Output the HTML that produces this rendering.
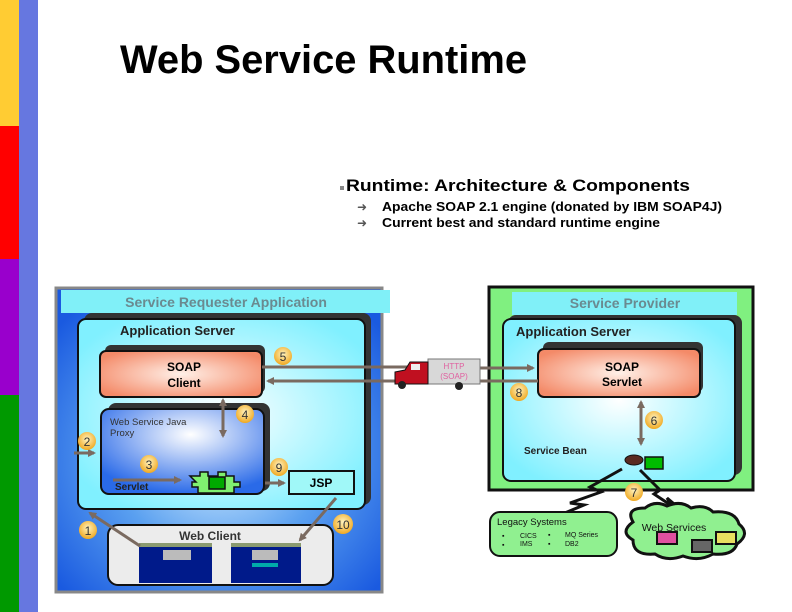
<!DOCTYPE html>
<html><head><meta charset="utf-8"><style>
html,body{margin:0;padding:0;background:#fff}
svg{display:block}
text{font-family:"Liberation Sans",sans-serif}
</style></head><body>
<svg width="792" height="612" viewBox="0 0 792 612" xmlns="http://www.w3.org/2000/svg">
<defs>
<radialGradient id="blueg" cx="50%" cy="55%" r="65%"><stop offset="0" stop-color="#d8f0ff"/><stop offset="0.5" stop-color="#5aa0f0"/><stop offset="1" stop-color="#1a5ae0"/></radialGradient>
<radialGradient id="cyang" cx="50%" cy="50%" r="60%"><stop offset="0" stop-color="#ffffff"/><stop offset="1" stop-color="#80f0ff"/></radialGradient>
<radialGradient id="salg" cx="50%" cy="50%" r="60%"><stop offset="0" stop-color="#fff0e8"/><stop offset="1" stop-color="#f48a68"/></radialGradient>
<radialGradient id="proxg" cx="55%" cy="30%" r="70%"><stop offset="0" stop-color="#ffffff"/><stop offset="1" stop-color="#2a6ae8"/></radialGradient>
<radialGradient id="badge" cx="50%" cy="40%" r="60%"><stop offset="0" stop-color="#fff4c0"/><stop offset="1" stop-color="#f0a820"/></radialGradient>
<marker id="ah" markerWidth="8" markerHeight="8" refX="6" refY="4" orient="auto" markerUnits="userSpaceOnUse"><path d="M0,0 L8,4 L0,8 z" fill="#7a6a60"/></marker>
<marker id="ahs" markerWidth="8" markerHeight="8" refX="2" refY="4" orient="auto" markerUnits="userSpaceOnUse"><path d="M8,0 L0,4 L8,8 z" fill="#7a6a60"/></marker>
</defs>
<rect x="0" y="0" width="19" height="126" fill="#ffcc33"/>
<rect x="0" y="126" width="19" height="133" fill="#ff0000"/>
<rect x="0" y="259" width="19" height="136" fill="#9900cc"/>
<rect x="0" y="395" width="19" height="217" fill="#009900"/>
<rect x="19" y="0" width="19" height="612" fill="#6677e0"/>

<text x="120" y="73" font-size="40" font-weight="bold" textLength="407" lengthAdjust="spacingAndGlyphs">Web Service Runtime</text>
<rect x="340" y="186" width="4" height="4" fill="#888"/>
<text x="346" y="191" font-size="17" font-weight="bold" textLength="344" lengthAdjust="spacingAndGlyphs">Runtime: Architecture &amp; Components</text>
<text x="357" y="211" font-size="12" fill="#555">➜</text>
<text x="382" y="211" font-size="13" font-weight="bold" textLength="340" lengthAdjust="spacingAndGlyphs">Apache SOAP 2.1 engine (donated by IBM SOAP4J)</text>
<text x="357" y="227" font-size="12" fill="#555">➜</text>
<text x="382" y="227" font-size="13" font-weight="bold" textLength="278" lengthAdjust="spacingAndGlyphs">Current best and standard runtime engine</text>

<rect x="56" y="288" width="326" height="304" fill="url(#blueg)" stroke="#888" stroke-width="3"/>
<rect x="61" y="290" width="329" height="23" fill="#80f0f8"/>
<text x="226" y="307" font-size="14" font-weight="bold" fill="#6a8a90" text-anchor="middle">Service Requester Application</text>
<rect x="84" y="313" width="287" height="192" rx="8" fill="#333"/>
<rect x="78" y="319" width="287" height="190" rx="8" fill="url(#cyang)" stroke="#111" stroke-width="2"/>
<text x="120" y="335" font-size="13" font-weight="bold" fill="#222">Application Server</text>
<rect x="105" y="345" width="160" height="48" rx="6" fill="#333"/>
<rect x="100" y="351" width="162" height="46" rx="6" fill="url(#salg)" stroke="#111" stroke-width="2"/>
<text x="184" y="371" font-size="12" font-weight="bold" text-anchor="middle">SOAP</text>
<text x="184" y="387" font-size="12" font-weight="bold" text-anchor="middle">Client</text>
<rect x="108" y="403" width="162" height="88" rx="8" fill="#333"/>
<rect x="101" y="409" width="163" height="85" rx="8" fill="url(#proxg)" stroke="#111" stroke-width="2"/>
<text x="110" y="425" font-size="9.5" fill="#333">Web Service Java</text>
<text x="110" y="436" font-size="9.5" fill="#333">Proxy</text>
<text x="115" y="490" font-size="10" font-weight="bold" fill="#222">Servlet</text>
<path d="M190,476 h10 v-4 h8 v4 h10 v-4 h8 v4 h8 v6 h6 v5 h-6 v6 h-36 v-6 h-6 v-5 h4 z" fill="#80f070" stroke="#111" stroke-width="1.5"/>
<rect x="209" y="477" width="16" height="12" fill="#0a0" stroke="#111" stroke-width="1.5"/>
<rect x="289" y="471" width="65" height="23" fill="#a0f8f8" stroke="#111" stroke-width="2"/>
<text x="321" y="487" font-size="12" font-weight="bold" text-anchor="middle">JSP</text>
<rect x="108" y="525" width="225" height="60" rx="10" fill="#ececec" stroke="#111" stroke-width="2"/>
<text x="210" y="540" font-size="12" font-weight="bold" fill="#333" text-anchor="middle">Web Client</text>
<rect x="139" y="543" width="73" height="40" fill="#001a8a"/><rect x="139" y="543" width="73" height="4" fill="#8a9a70"/><rect x="163" y="550" width="28" height="10" fill="#bbb"/>
<rect x="231" y="543" width="70" height="40" fill="#001a8a"/><rect x="231" y="543" width="70" height="4" fill="#8a9a70"/><rect x="252" y="550" width="26" height="10" fill="#bbb"/><rect x="252" y="563" width="26" height="4" fill="#0aa"/>

<rect x="489" y="287" width="264" height="203" fill="#80f080" stroke="#111" stroke-width="3"/>
<rect x="512" y="292" width="225" height="23" fill="#80f0f8"/>
<text x="625" y="308" font-size="14" font-weight="bold" fill="#6a8a90" text-anchor="middle">Service Provider</text>
<rect x="508" y="315" width="234" height="160" rx="8" fill="#333"/>
<rect x="503" y="319" width="232" height="162" rx="8" fill="url(#cyang)" stroke="#111" stroke-width="2"/>
<text x="516" y="336" font-size="13" font-weight="bold" fill="#222">Application Server</text>
<rect x="543" y="342" width="160" height="50" rx="6" fill="#333"/>
<rect x="538" y="349" width="162" height="48" rx="6" fill="url(#salg)" stroke="#111" stroke-width="2"/>
<text x="622" y="371" font-size="12" font-weight="bold" text-anchor="middle">SOAP</text>
<text x="622" y="386" font-size="12" font-weight="bold" text-anchor="middle">Servlet</text>
<text x="524" y="454" font-size="10" font-weight="bold" fill="#222">Service Bean</text>
<ellipse cx="634" cy="460" rx="9" ry="5" fill="#5a2a20" stroke="#111"/>
<rect x="645" y="457" width="18" height="12" fill="#0b0" stroke="#111" stroke-width="1.5"/>

<line x1="262" y1="367" x2="430" y2="367" stroke="#7a6a60" stroke-width="3"/>
<line x1="480" y1="368" x2="533" y2="368" stroke="#7a6a60" stroke-width="3" marker-end="url(#ah)"/>
<line x1="538" y1="381" x2="480" y2="381" stroke="#7a6a60" stroke-width="3"/>
<line x1="395" y1="381" x2="268" y2="381" stroke="#7a6a60" stroke-width="3" marker-end="url(#ah)"/>
<line x1="223" y1="400" x2="223" y2="436" stroke="#7a6a60" stroke-width="3" marker-start="url(#ahs)" marker-end="url(#ah)"/>
<line x1="641" y1="402" x2="641" y2="444" stroke="#7a6a60" stroke-width="3" marker-start="url(#ahs)" marker-end="url(#ah)"/>
<line x1="74" y1="453" x2="94" y2="453" stroke="#7a6a60" stroke-width="3" marker-end="url(#ah)"/>
<line x1="113" y1="480" x2="180" y2="480" stroke="#7a6a60" stroke-width="3" marker-end="url(#ah)"/>
<line x1="265" y1="483" x2="284" y2="483" stroke="#7a6a60" stroke-width="3" marker-end="url(#ah)"/>
<line x1="140" y1="546" x2="90" y2="513" stroke="#7a6a60" stroke-width="3" marker-end="url(#ah)"/>
<line x1="336" y1="498" x2="300" y2="540" stroke="#7a6a60" stroke-width="3" marker-end="url(#ah)"/>

<rect x="428" y="359" width="52" height="25" fill="#d8d8d8" stroke="#777"/>
<text x="454" y="369" font-size="8" fill="#e060a0" text-anchor="middle">HTTP</text>
<text x="454" y="379" font-size="8" fill="#e060a0" text-anchor="middle">(SOAP)</text>
<path d="M395,372 l10,-2 l5,-8 h18 v22 h-33 z" fill="#c01020" stroke="#111"/>
<rect x="411" y="364" width="9" height="6" fill="#eee"/>
<circle cx="402" cy="385" r="4" fill="#222"/><circle cx="459" cy="386" r="4" fill="#222"/>

<path d="M622,469 L590,487 L601,492 L570,503 L584,505 L560,515" fill="none" stroke="#111" stroke-width="3"/>
<path d="M640,470 L660,490 L654,494 L672,506 L667,498 L686,514" fill="none" stroke="#111" stroke-width="3"/>

<rect x="490" y="512" width="127" height="44" rx="10" fill="#90f090" stroke="#111" stroke-width="2"/>
<text x="497" y="525" font-size="9.5" fill="#111">Legacy Systems</text>
<text x="502" y="538" font-size="7" fill="#111">▪</text><text x="520" y="538" font-size="7" fill="#111">CICS</text>
<text x="548" y="537" font-size="7" fill="#111">▪</text><text x="565" y="537" font-size="7" fill="#111">MQ Series</text>
<text x="502" y="547" font-size="7" fill="#111">▪</text><text x="520" y="546" font-size="7" fill="#111">IMS</text>
<text x="548" y="546" font-size="7" fill="#111">▪</text><text x="565" y="546" font-size="7" fill="#111">DB2</text>
<path d="M633,522 q-8,-14 12,-14 q10,-8 22,-2 q14,-6 24,2 q14,-4 22,4 q22,-2 26,12 q12,10 -2,20 q-4,12 -24,10 q-14,8 -30,2 q-16,6 -28,-2 q-22,2 -22,-14 q-14,-8 0,-18 z" fill="#90f090" stroke="#111" stroke-width="3"/>
<text x="674" y="531" font-size="10.5" fill="#111" text-anchor="middle">Web Services</text>
<rect x="657" y="532" width="20" height="12" fill="#e050a0" stroke="#111" stroke-width="2"/>
<rect x="692" y="540" width="20" height="12" fill="#666" stroke="#111" stroke-width="2"/>
<rect x="716" y="532" width="20" height="12" fill="#e8e060" stroke="#111" stroke-width="2"/>

<g font-size="12" fill="#333" text-anchor="middle">
<circle cx="283" cy="356" r="9" fill="url(#badge)"/><text x="283" y="361">5</text>
<circle cx="245" cy="414" r="9" fill="url(#badge)"/><text x="245" y="419">4</text>
<circle cx="87" cy="441" r="9" fill="url(#badge)"/><text x="87" y="446">2</text>
<circle cx="149" cy="464" r="9" fill="url(#badge)"/><text x="149" y="469">3</text>
<circle cx="279" cy="467" r="9" fill="url(#badge)"/><text x="279" y="472">9</text>
<circle cx="88" cy="530" r="9" fill="url(#badge)"/><text x="88" y="535">1</text>
<circle cx="343" cy="524" r="10" fill="url(#badge)"/><text x="343" y="529">10</text>
<circle cx="519" cy="392" r="9" fill="url(#badge)"/><text x="519" y="397">8</text>
<circle cx="654" cy="420" r="9" fill="url(#badge)"/><text x="654" y="425">6</text>
<circle cx="634" cy="492" r="9" fill="url(#badge)"/><text x="634" y="497">7</text>
</g>
</svg>
</body></html>
